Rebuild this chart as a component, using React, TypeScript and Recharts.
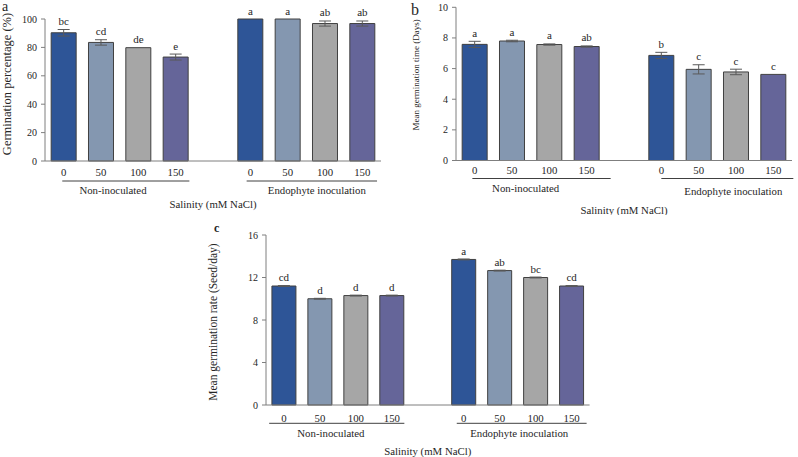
import { BarChart, Bar, Cell, XAxis, YAxis, ErrorBar, LabelList } from 'recharts'

const doses = ['0', '50', '100', '150']
const groups = ['Non-inoculated', 'Endophyte inoculation']
const barColors = ['#2E5597', '#8497B0', '#A6A6A6', '#656599']

// a — germination percentage (%)
const gpMean = [90.3, 83.5, 79.8, 73.2, 100, 100, 96.8, 96.8]
const gpErr = [2.3, 1.9, 0, 2.1, 0, 0, 1.8, 1.8]
const gpSig = ['bc', 'cd', 'de', 'e', 'a', 'a', 'ab', 'ab']
const gpTicks = [0, 20, 40, 60, 80, 100]

// b — mean germination time (days)
const mgtMean = [7.58, 7.8, 7.57, 7.44, 6.86, 5.95, 5.78, 5.62]
const mgtErr = [0.2, 0.05, 0.04, 0.04, 0.2, 0.3, 0.18, 0]
const mgtSig = ['a', 'a', 'a', 'ab', 'b', 'c', 'c', 'c']
const mgtTicks = [0, 2, 4, 6, 8, 10]

// c — mean germination rate (seed/day)
const mgrMean = [11.2, 10.0, 10.3, 10.3, 13.7, 12.65, 12.0, 11.2]
const mgrErr = [0.04, 0.04, 0.04, 0.04, 0.04, 0.04, 0.04, 0.04]
const mgrSig = ['cd', 'd', 'd', 'd', 'a', 'ab', 'bc', 'cd']
const mgrTicks = [0, 4, 8, 12, 16]

const FONT = "'Liberation Serif', 'Times New Roman', serif"
const TEXT = '#262626'
const AXIS = '#7f7f7f'
const YW = 30
const TICK_H = 12

type Row = { dose: string; value: number | null; err: number | null; sig: string; idx: number; slot: number }

function buildRows(mean: number[], err: number[], sig: string[]) {
  const rows: Row[] = []
  groups.forEach((_, gi) => {
    // empty slot between the two groups
    if (gi > 0) rows.push({ dose: '', value: null, err: null, sig: '', idx: -1, slot: rows.length })
    doses.forEach((d, di) => {
      const k = gi * doses.length + di
      rows.push({ dose: d, value: mean[k], err: err[k], sig: sig[k], idx: di, slot: rows.length })
    })
  })
  return rows
}

interface PanelProps {
  mean: number[]
  err: number[]
  sig: string[]
  ticks: number[]
  yLabel: string
  yLabelSize: number
  yLabelX: number
  yLabelDy: number
  box: { left: number; top: number; width: number; height: number }
  margin: { top: number; right: number; left: number }
  plotBottom: number
  tickGap: number
  underGap: number
  groupGap: number[]
  salGap: number
  under: [number, number][]
  groupDx: number[]
}

function Panel(p: PanelProps) {
  const rows = buildRows(p.mean, p.err, p.sig)
  const plotW = p.box.width - p.margin.left - YW - p.margin.right
  const slotW = plotW / rows.length
  const max = p.ticks[p.ticks.length - 1]
  const grpH = p.box.height - p.plotBottom - TICK_H
  // group label sits between 2nd and 3rd bar of each group
  const groupAt = [1, 1 + doses.length + 1]

  const renderSig = (props: any) => {
    const { x, y, width, height, value } = props
    const r = rows[value]
    if (!r || r.value == null) return null
    const errPx = r.value ? ((r.err || 0) / r.value) * height : 0
    return (
      <text x={x + width / 2} y={y - errPx - 4.5} textAnchor="middle" fontSize={11} fill={TEXT} fontFamily={FONT}>
        {r.sig}
      </text>
    )
  }

  const renderGroup = (props: any) => {
    const { x, y, index } = props
    const gi = groupAt.indexOf(index)
    if (gi < 0) return <g />
    const cx = x + slotW / 2
    const base = y - TICK_H
    const [l, r] = p.under[gi]
    return (
      <g>
        <line x1={cx - 1.5 * slotW - l} x2={cx + 1.5 * slotW + r} y1={base + p.underGap} y2={base + p.underGap} stroke="#404040" strokeWidth={1} />
        <text x={cx + p.groupDx[gi]} y={base + p.groupGap[gi]} textAnchor="middle" dominantBaseline="central" fontSize={10.8} fill={TEXT} fontFamily={FONT}>
          {groups[gi]}
        </text>
        {gi === 0 && (
          <text x={cx + (rows.length / 2 - 2) * slotW} y={base + p.salGap} textAnchor="middle" dominantBaseline="central" fontSize={10.8} fill={TEXT} fontFamily={FONT}>
            Salinity (mM NaCl)
          </text>
        )}
      </g>
    )
  }

  return (
    <div style={{ position: 'absolute', left: p.box.left, top: p.box.top }}>
      <BarChart width={p.box.width} height={p.box.height} data={rows} margin={{ ...p.margin, bottom: 0 }} barCategoryGap="16.5%">
        <XAxis
          dataKey="dose"
          interval={0}
          height={TICK_H}
          tickLine={false}
          tickSize={0}
          tickMargin={p.tickGap - 4}
          axisLine={{ stroke: AXIS }}
          tick={{ fontSize: 10.8, fill: TEXT, fontFamily: FONT }}
        />
        <XAxis
          xAxisId="grp"
          dataKey="dose"
          interval={0}
          height={grpH}
          tickLine={false}
          axisLine={false}
          tickSize={0}
          tickMargin={0}
          tick={renderGroup}
        />
        <YAxis
          type="number"
          domain={[0, max]}
          ticks={p.ticks}
          interval={0}
          width={YW}
          tickSize={4}
          tickMargin={4}
          tickLine={{ stroke: AXIS }}
          axisLine={{ stroke: AXIS }}
          tick={{ fontSize: 10, fill: TEXT, fontFamily: FONT }}
          label={{
            content: ({ viewBox }: any) => {
              const cy = viewBox.y + viewBox.height / 2 + p.yLabelDy
              return (
                <text x={p.yLabelX} y={cy} transform={`rotate(-90 ${p.yLabelX} ${cy})`} textAnchor="middle" dominantBaseline="central" fontSize={p.yLabelSize} fill={TEXT} fontFamily={FONT}>
                  {p.yLabel}
                </text>
              )
            },
          }}
        />
        <Bar dataKey="value" stroke="#404040" strokeWidth={1} isAnimationActive={false}>
          {rows.map((r, i) => (
            <Cell key={i} fill={r.idx >= 0 ? barColors[r.idx] : 'none'} />
          ))}
          <ErrorBar dataKey="err" width={6} stroke="#595959" strokeWidth={1} direction="y" />
          <LabelList dataKey="slot" content={renderSig} />
        </Bar>
      </BarChart>
    </div>
  )
}

export default function App() {
  return (
    <div style={{ position: 'absolute', left: 0, top: 0, width: 798, height: 457, background: '#fff', fontFamily: FONT, overflow: 'hidden' }}>
      <Panel
        mean={gpMean} err={gpErr} sig={gpSig} ticks={gpTicks}
        yLabel="Germination percentage (%)" yLabelSize={12.5} yLabelX={7} yLabelDy={-6}
        box={{ left: 0, top: 0, width: 400, height: 215 }}
        margin={{ top: 19, right: 19, left: 15 }} plotBottom={161}
        tickGap={11} underGap={20} groupGap={[29, 29]} salGap={43}
        under={[[1.4, 13.7], [3.7, 14.7]]} groupDx={[-6.7, 10.5]}
      />
      <Panel
        mean={mgtMean} err={mgtErr} sig={mgtSig} ticks={mgtTicks}
        yLabel="Mean germination time (Days)" yLabelSize={9} yLabelX={16} yLabelDy={-9}
        box={{ left: 400, top: 0, width: 398, height: 215 }}
        margin={{ top: 7.3, right: 6, left: 26 }} plotBottom={160.5}
        tickGap={9.5} underGap={18} groupGap={[27.5, 30]} salGap={49.5}
        under={[[2.3, 24], [0, 20]]} groupDx={[-5, 16]}
      />
      <Panel
        mean={mgrMean} err={mgrErr} sig={mgrSig} ticks={mgrTicks}
        yLabel="Mean germination rate (Seed/day)" yLabelSize={11.5} yLabelX={33} yLabelDy={2}
        box={{ left: 180, top: 220, width: 420, height: 237 }}
        margin={{ top: 15, right: 10.4, left: 56 }} plotBottom={185}
        tickGap={13} underGap={18.3} groupGap={[27.7, 27.7]} salGap={45.7}
        under={[[14.8, 12.5], [7, 15]]} groupDx={[-7, 1.5]}
      />
      <div style={{ position: 'absolute', left: 2, top: 0, fontSize: 14, lineHeight: 1, color: TEXT }}>a</div>
      <div style={{ position: 'absolute', left: 411, top: 2, fontSize: 16, lineHeight: 1, color: TEXT }}>b</div>
      <div style={{ position: 'absolute', left: 214, top: 222, fontSize: 12, lineHeight: 1, fontWeight: 'bold', color: TEXT }}>c</div>
    </div>
  )
}
